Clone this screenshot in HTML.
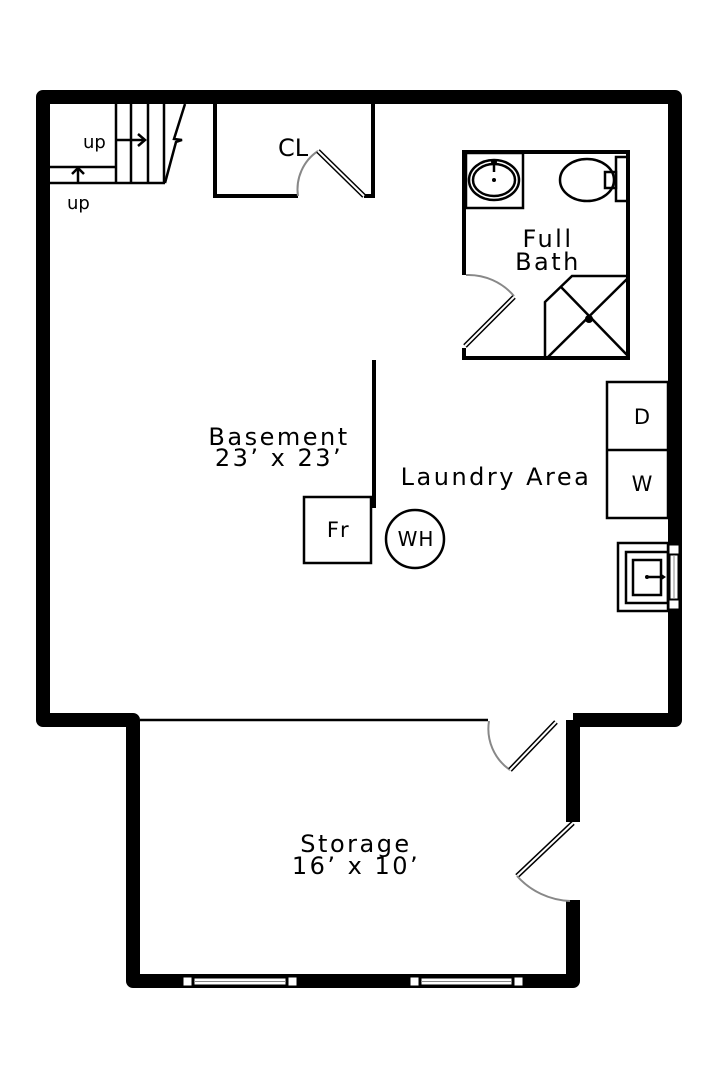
<!DOCTYPE html>
<html><head><meta charset="utf-8"><style>
html,body{margin:0;padding:0;background:#fff}
svg{display:block}
text{font-family:"DejaVu Sans","Liberation Sans",sans-serif;fill:#000;letter-spacing:2.5px}
</style></head><body>
<svg width="720" height="1080" viewBox="0 0 720 1080" xmlns="http://www.w3.org/2000/svg">
<rect width="720" height="1080" fill="#fff"/>
<g fill="none" stroke="#000" stroke-width="14" stroke-linejoin="round">
<path d="M573,720 L675,720 L675,97 L43,97 L43,720 L133,720 L133,981 L573,981 L573,900"/>
<path d="M573,720 L573,822"/>
</g>
<line x1="140" y1="720" x2="488" y2="720" stroke="#000" stroke-width="2.5"/>
<g stroke="#000" stroke-width="1">
<rect x="183" y="977" width="9" height="9" fill="#fff"/>
<rect x="194" y="978" width="92" height="7" fill="#fff"/>
<line x1="194" y1="981.5" x2="286" y2="981.5" stroke="#888"/>
<rect x="288" y="977" width="9" height="9" fill="#fff"/>
<rect x="410" y="977" width="9" height="9" fill="#fff"/>
<rect x="421" y="978" width="91" height="7" fill="#fff"/>
<line x1="421" y1="981.5" x2="512" y2="981.5" stroke="#888"/>
<rect x="514" y="977" width="9" height="9" fill="#fff"/>
</g>
<g stroke="#000" stroke-width="1">
<rect x="669" y="545" width="10" height="9" fill="#fff"/>
<rect x="670" y="555" width="8" height="44" fill="#fff"/>
<line x1="674" y1="555" x2="674" y2="599" stroke="#888"/>
<rect x="669" y="600" width="10" height="9" fill="#fff"/>
</g>
<g stroke="#000" stroke-width="2.5" fill="none">
<line x1="50" y1="167" x2="116" y2="167"/>
<line x1="50" y1="183" x2="165" y2="183"/>
<line x1="116" y1="104" x2="116" y2="183"/>
<line x1="131" y1="104" x2="131" y2="183"/>
<line x1="148" y1="104" x2="148" y2="183"/>
<line x1="164" y1="104" x2="164" y2="183"/>
<path d="M165,183 L176,142 L182,140 L174,139 L185,104"/>
<line x1="116" y1="140" x2="145" y2="140"/>
<path d="M138,134 L145,140 L138,146"/>
<line x1="78" y1="183" x2="78" y2="168"/>
<path d="M72,174 L78,168 L84,174"/>
</g>
<text x="83" y="148" font-size="18" style="letter-spacing:0">up</text>
<text x="67" y="209" font-size="18" style="letter-spacing:0">up</text>
<g stroke="#000" stroke-width="4" fill="none">
<path d="M215,104 L215,196 L298,196"/>
<path d="M373,104 L373,196 L364,196"/>
</g>
<path d="M298,196 A46,46 0 0 1 318,151" stroke="#888" stroke-width="2" fill="none"/>
<line x1="318" y1="151" x2="364" y2="196" stroke="#000" stroke-width="5"/>
<line x1="318" y1="151" x2="364" y2="196" stroke="#fff" stroke-width="2"/>
<text x="278" y="156" font-size="24" style="letter-spacing:0">CL</text>
<g stroke="#000" stroke-width="4" fill="none">
<path d="M464,275 L464,152 L628,152 L628,358 L464,358 L464,348"/>
</g>
<path d="M466,275 A60,60 0 0 1 514,296" stroke="#888" stroke-width="2" fill="none"/>
<line x1="514" y1="297" x2="465" y2="346" stroke="#000" stroke-width="5"/>
<line x1="514" y1="297" x2="465" y2="346" stroke="#fff" stroke-width="2"/>
<g stroke="#000" stroke-width="2.5" fill="none">
<rect x="466" y="153" width="57" height="55"/>
<ellipse cx="494" cy="180" rx="25" ry="20"/>
<ellipse cx="494" cy="180" rx="21" ry="16"/>
<line x1="494" y1="162" x2="494" y2="172"/>
<rect x="616" y="157" width="12" height="44"/>
<rect x="605" y="172" width="11" height="16"/>
<ellipse cx="587" cy="180" rx="27" ry="21"/>
<path d="M545,358 L545,302 L572,276 L628,276"/>
<line x1="561" y1="287" x2="628" y2="356"/>
<line x1="628" y1="278" x2="547" y2="358"/>
</g>
<circle cx="494" cy="162" r="3"/>
<circle cx="494" cy="180" r="2"/>
<circle cx="589" cy="319" r="4"/>
<text x="548" y="247" font-size="24" text-anchor="middle">Full</text>
<text x="548" y="270" font-size="24" text-anchor="middle">Bath</text>
<line x1="374" y1="360" x2="374" y2="508" stroke="#000" stroke-width="4"/>
<rect x="304" y="497" width="67" height="66" fill="none" stroke="#000" stroke-width="2.5"/>
<text x="339" y="537" font-size="21" text-anchor="middle">Fr</text>
<circle cx="415" cy="539" r="29" fill="none" stroke="#000" stroke-width="2.5"/>
<text x="416" y="546" font-size="20" text-anchor="middle" style="letter-spacing:1px">WH</text>
<text x="279" y="445" font-size="24" text-anchor="middle">Basement</text>
<text x="279" y="466" font-size="24" text-anchor="middle">23’ x 23’</text>
<text x="496" y="485" font-size="24" text-anchor="middle">Laundry Area</text>
<g stroke="#000" stroke-width="2.5" fill="none">
<rect x="607" y="382" width="61" height="136"/>
<line x1="607" y1="450" x2="668" y2="450"/>
<rect x="618" y="543" width="50" height="68"/>
<rect x="626" y="552" width="42" height="51"/>
<rect x="633" y="560" width="28" height="35"/>
<line x1="647" y1="577" x2="664" y2="577"/>
</g>
<circle cx="647" cy="577" r="2"/>
<path d="M660,573 L666,577 L660,581Z"/>
<text x="642" y="424" font-size="21" text-anchor="middle" style="letter-spacing:0">D</text>
<text x="642" y="491" font-size="21" text-anchor="middle" style="letter-spacing:0">W</text>
<path d="M489,721 A50,50 0 0 0 510,770" stroke="#888" stroke-width="2" fill="none"/>
<line x1="510" y1="770" x2="556" y2="722" stroke="#000" stroke-width="5"/>
<line x1="510" y1="770" x2="556" y2="722" stroke="#fff" stroke-width="2"/>
<line x1="573" y1="823" x2="517" y2="876" stroke="#000" stroke-width="5"/>
<line x1="573" y1="823" x2="517" y2="876" stroke="#fff" stroke-width="2"/>
<path d="M517,876 A75,75 0 0 0 570,901" stroke="#888" stroke-width="2" fill="none"/>
<text x="356" y="852" font-size="24" text-anchor="middle">Storage</text>
<text x="356" y="874" font-size="24" text-anchor="middle">16’ x 10’</text>
</svg>
</body></html>
